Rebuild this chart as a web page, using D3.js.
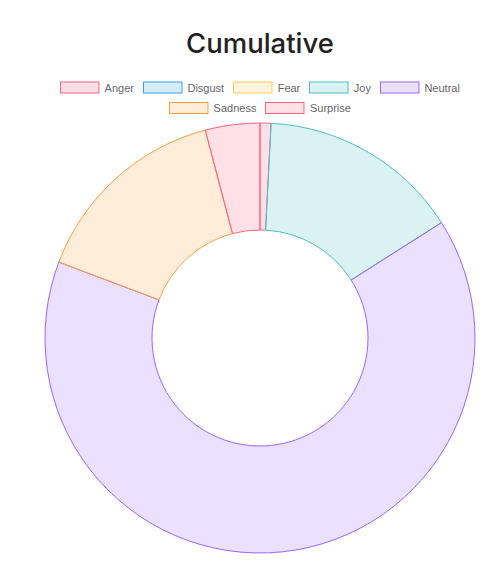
<!DOCTYPE html>
<html><head><meta charset="utf-8">
<script src="https://cdn.jsdelivr.net/npm/d3@7"></script>
<style>body{margin:0;background:#fff;} svg{display:block;}</style>
</head><body>
<svg id="c" width="496" height="573"></svg>
<script>
const categories = ["Anger","Disgust","Fear","Joy","Neutral","Sadness","Surprise"];
const values = [2, 0, 0, 37, 158, 37, 10];
const fills = ["rgba(255,99,132,0.2)","rgba(54,162,235,0.2)","rgba(255,206,86,0.2)","rgba(75,192,192,0.2)","rgba(153,102,255,0.2)","rgba(255,159,64,0.2)","rgba(255,99,132,0.2)"];
const strokes = ["rgb(255,99,132)","rgb(54,162,235)","rgb(255,206,86)","rgb(75,192,192)","rgb(153,102,255)","rgb(255,159,64)","rgb(255,99,132)"];
const title = "Cumulative";

const svg = d3.select("#c");
const cx = 260, cy = 338, R = 215, r = 108;
const font = "'Liberation Sans', Arial, sans-serif";

svg.append("text").attr("x", cx).attr("y", 52.5).attr("text-anchor","middle")
  .attr("font-family", "Inter, 'Liberation Sans', sans-serif").attr("font-weight", 500)
  .attr("font-size", 27.5).attr("fill", "#222").text(title);

// legend
const rows = [[0,1,2,3,4],[5,6]];
const rowY = [87.5, 108];
const fs = 11;
const tmp = svg.append("text").attr("font-family", font).attr("font-size", fs);
const tw = s => { tmp.text(s); return tmp.node().getComputedTextLength(); };
const lg = svg.append("g");
rows.forEach((row, ri) => {
  const widths = row.map(i => 44.5 + tw(categories[i]));
  const total = d3.sum(widths) + 9 * (row.length - 1);
  let x = cx - total / 2;
  row.forEach((i, k) => {
    lg.append("rect").attr("x", Math.round(x) + 0.5).attr("y", rowY[ri] - 5.5).attr("width", 38.5).attr("height", 11)
      .attr("fill", fills[i]).attr("stroke", strokes[i]).attr("stroke-width", 1);
    lg.append("text").attr("x", x + 44.5).attr("y", rowY[ri] + 4).attr("font-family", font)
      .attr("font-size", fs).attr("fill", "#666").text(categories[i]);
    x += widths[k] + 9;
  });
});
tmp.remove();

const pie = d3.pie().sort(null).value(d => d);
const arc = d3.arc().innerRadius(r).outerRadius(R);
const g = svg.append("g").attr("transform", `translate(${cx},${cy})`);
g.selectAll("path").data(pie(values)).join("path")
  .attr("d", d => d.value > 0 ? arc(d) : null)
  .attr("fill", (d,i) => fills[i]).attr("stroke", (d,i) => strokes[i]).attr("stroke-width", 1)
  .attr("stroke-linejoin", "round");
</script>
</body></html>
